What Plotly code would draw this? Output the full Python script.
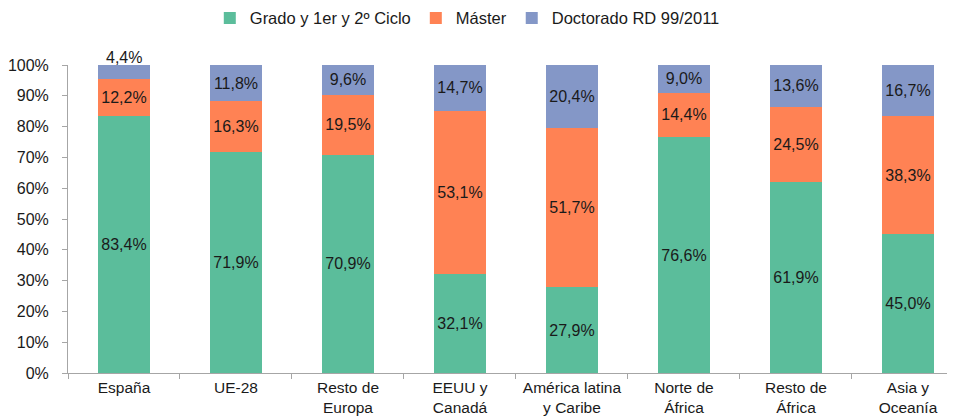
import plotly.graph_objects as go

categories = ["España", "UE-28", "Resto de<br>Europa", "EEUU y<br>Canadá",
              "América latina<br>y Caribe", "Norte de<br>África", "Resto de<br>África",
              "Asia y<br>Oceanía"]
grado = [83.4, 71.9, 70.9, 32.1, 27.9, 76.6, 61.9, 45.0]
master = [12.2, 16.3, 19.5, 53.1, 51.7, 14.4, 24.5, 38.3]
doctorado = [4.4, 11.8, 9.6, 14.7, 20.4, 9.0, 13.6, 16.7]

series = [
    ("Grado y 1er y 2º Ciclo", grado, "#5BBD9B"),
    ("Máster", master, "#FF8254"),
    ("Doctorado RD 99/2011", doctorado, "#8497C7"),
]

FONT = "Liberation Sans, Arial"
fig = go.Figure()
small_text = ""
for name, vals, col in series:
    texts = [f"{v:.1f}%".replace(".", ",") for v in vals]
    if name.startswith("Doctorado"):
        small_text = texts[0]
        texts[0] = ""
    fig.add_trace(go.Bar(
        x=categories, y=vals, name=name,
        marker=dict(color=col, line=dict(width=0)),
        text=texts, textposition="inside",
        insidetextanchor="middle",
        textfont=dict(color="#1a1a1a", size=16, family=FONT),
        cliponaxis=False,
    ))

# label of the thin top segment of the first bar, sitting on the bar top
top0 = round(grado[0] + master[0] + doctorado[0], 6)
fig.add_annotation(x=0, y=min(top0, 100), xref="x", yref="y", text=small_text,
                   showarrow=False, yanchor="bottom", yshift=-3,
                   font=dict(size=16, color="#1a1a1a", family=FONT))

fig.update_layout(
    barmode="stack",
    bargap=0.535,
    width=947, height=410,
    margin=dict(l=60, r=0, t=57, b=45, autoexpand=False),
    paper_bgcolor="white", plot_bgcolor="white",
    font=dict(family=FONT, size=16, color="#1a1a1a"),
    legend=dict(orientation="h", x=0.485, xanchor="center", xref="container",
                y=0.975, yanchor="middle", yref="container",
                font=dict(size=16.5), itemwidth=30, traceorder="normal"),
    showlegend=True,
)
fig.update_xaxes(range=[-0.5, 7.42], showline=True, linecolor="#a6a6a6", linewidth=1,
                 ticks="outside", tickson="boundaries", ticklen=5, tickcolor="#a6a6a6",
                 showgrid=False, tickfont=dict(size=15.5), automargin=False,
                 ticklabelstandoff=0)
fig.update_yaxes(range=[0, 100], dtick=10, ticksuffix="%", showline=True,
                 linecolor="#a6a6a6", linewidth=1, ticks="outside", ticklen=5,
                 tickcolor="#a6a6a6", showgrid=False, zeroline=False,
                 tickfont=dict(size=16), automargin=False, ticklabelstandoff=10)

fig.write_html("out.html")
